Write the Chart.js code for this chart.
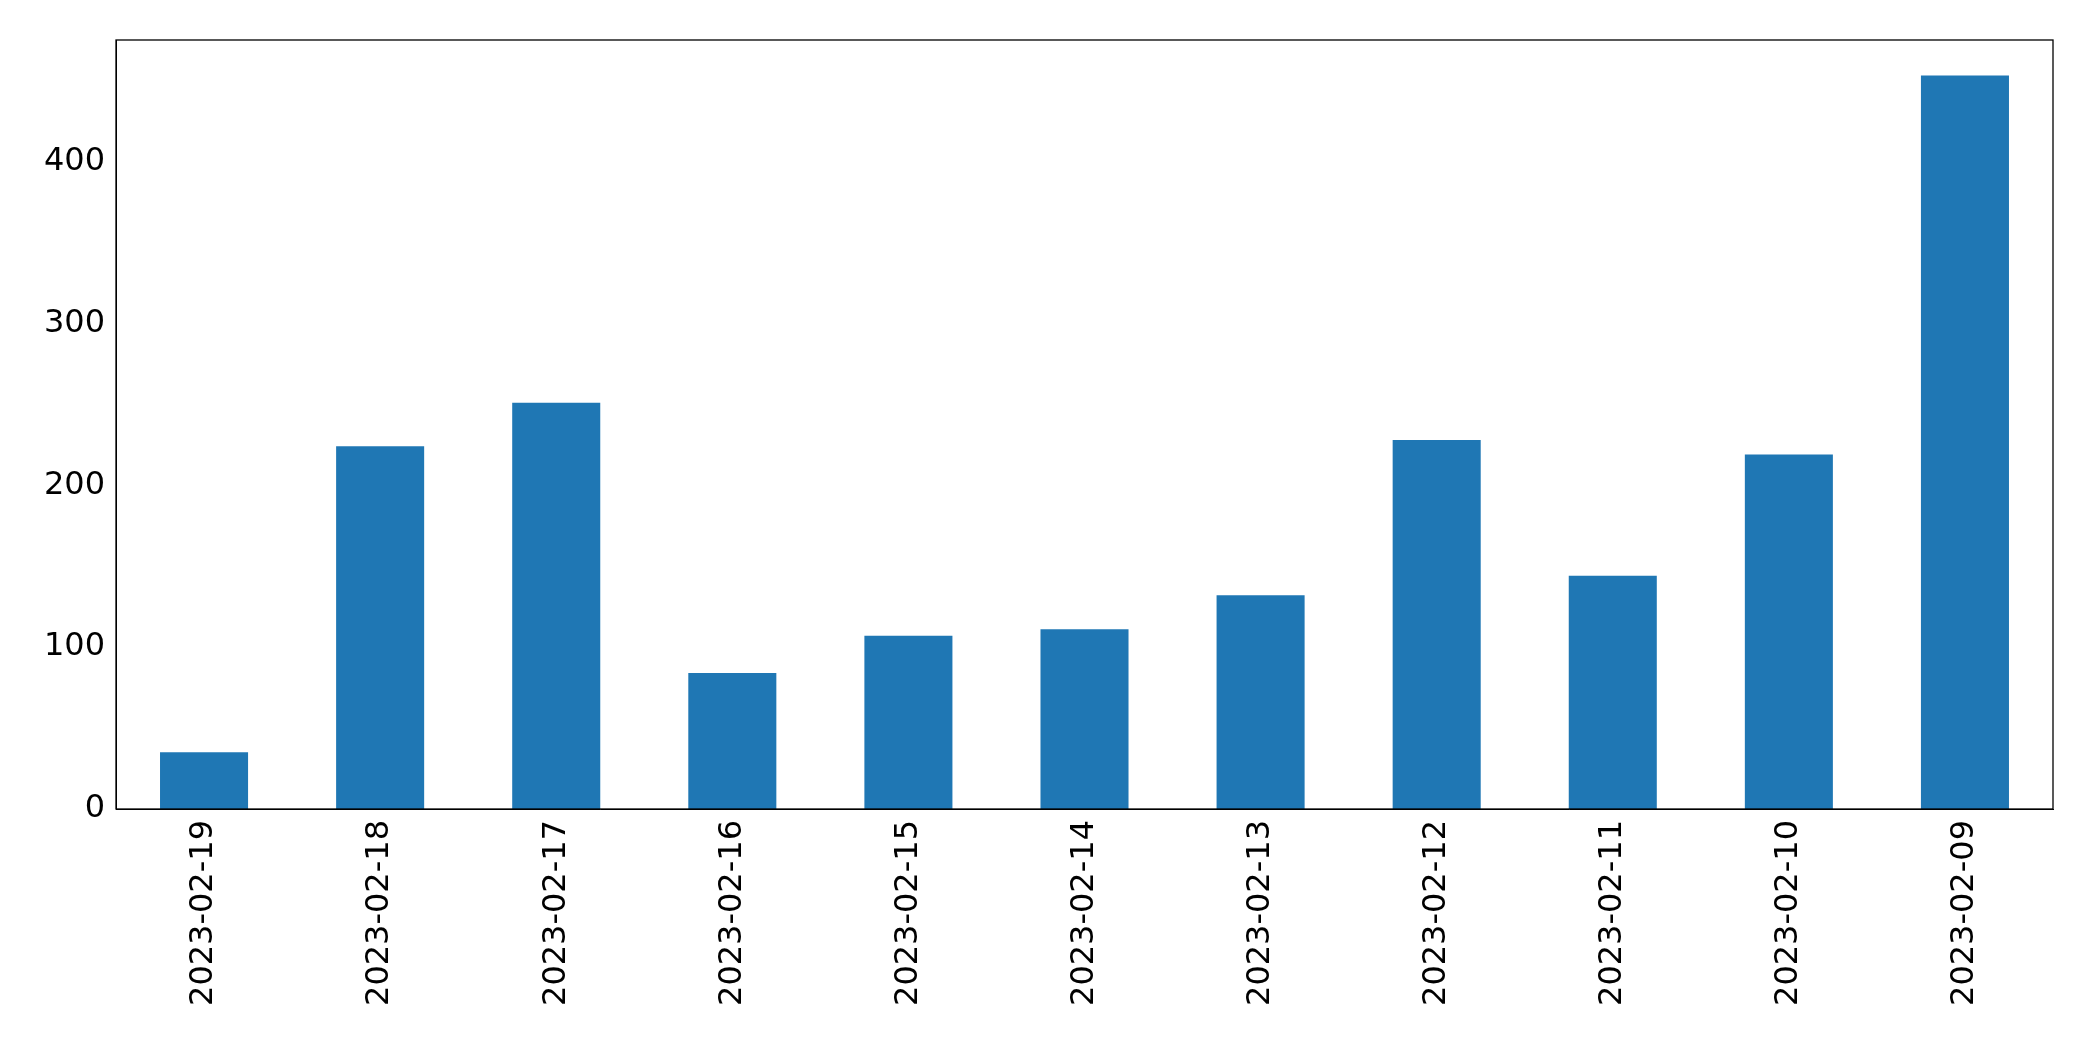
<!DOCTYPE html>
<html><head><meta charset="utf-8">
<script src="https://cdn.jsdelivr.net/npm/chart.js@4"></script>
<style>html,body{margin:0;padding:0;background:#fff}#w{width:2093px;height:1061px}</style>
</head><body><div id="w"><canvas id="c"></canvas></div>
<script>
const categories=["2023-02-19","2023-02-18","2023-02-17","2023-02-16","2023-02-15","2023-02-14","2023-02-13","2023-02-12","2023-02-11","2023-02-10","2023-02-09"];
const values=[35,224,251,84,107,111,132,228,144,219,453];
const yTicks=[0,100,200,300,400];
const frame={id:'frame',afterDraw(ch){const a=ch.chartArea,x=ch.ctx;x.save();x.strokeStyle='#000';x.lineWidth=1.3;x.strokeRect(a.left,a.top,a.right-a.left,a.bottom-a.top);x.restore();}};
new Chart(document.getElementById('c'),{type:'bar',
data:{labels:categories,datasets:[{data:values,backgroundColor:'#1f77b4',categoryPercentage:1,barPercentage:0.5}]},
options:{responsive:true,maintainAspectRatio:false,animation:false,
layout:{padding:{top:40,right:40,left:0,bottom:0}},
plugins:{legend:{display:false},tooltip:{enabled:false}},
scales:{
x:{grid:{display:false,drawTicks:true,tickLength:8},border:{color:'#000'},
ticks:{color:'#000',font:{family:'DejaVu Sans',size:32},maxRotation:90,minRotation:90,autoSkip:false},
afterFit(s){s.height=252;}},
y:{min:0,max:475,grid:{display:false,tickLength:8},border:{color:'#000'},
afterBuildTicks(s){s.ticks=yTicks.map(v=>({value:v}));},
ticks:{color:'#000',font:{family:'DejaVu Sans',size:32}},
afterFit(s){s.width=116;}}}},
plugins:[frame]});
</script></body></html>
